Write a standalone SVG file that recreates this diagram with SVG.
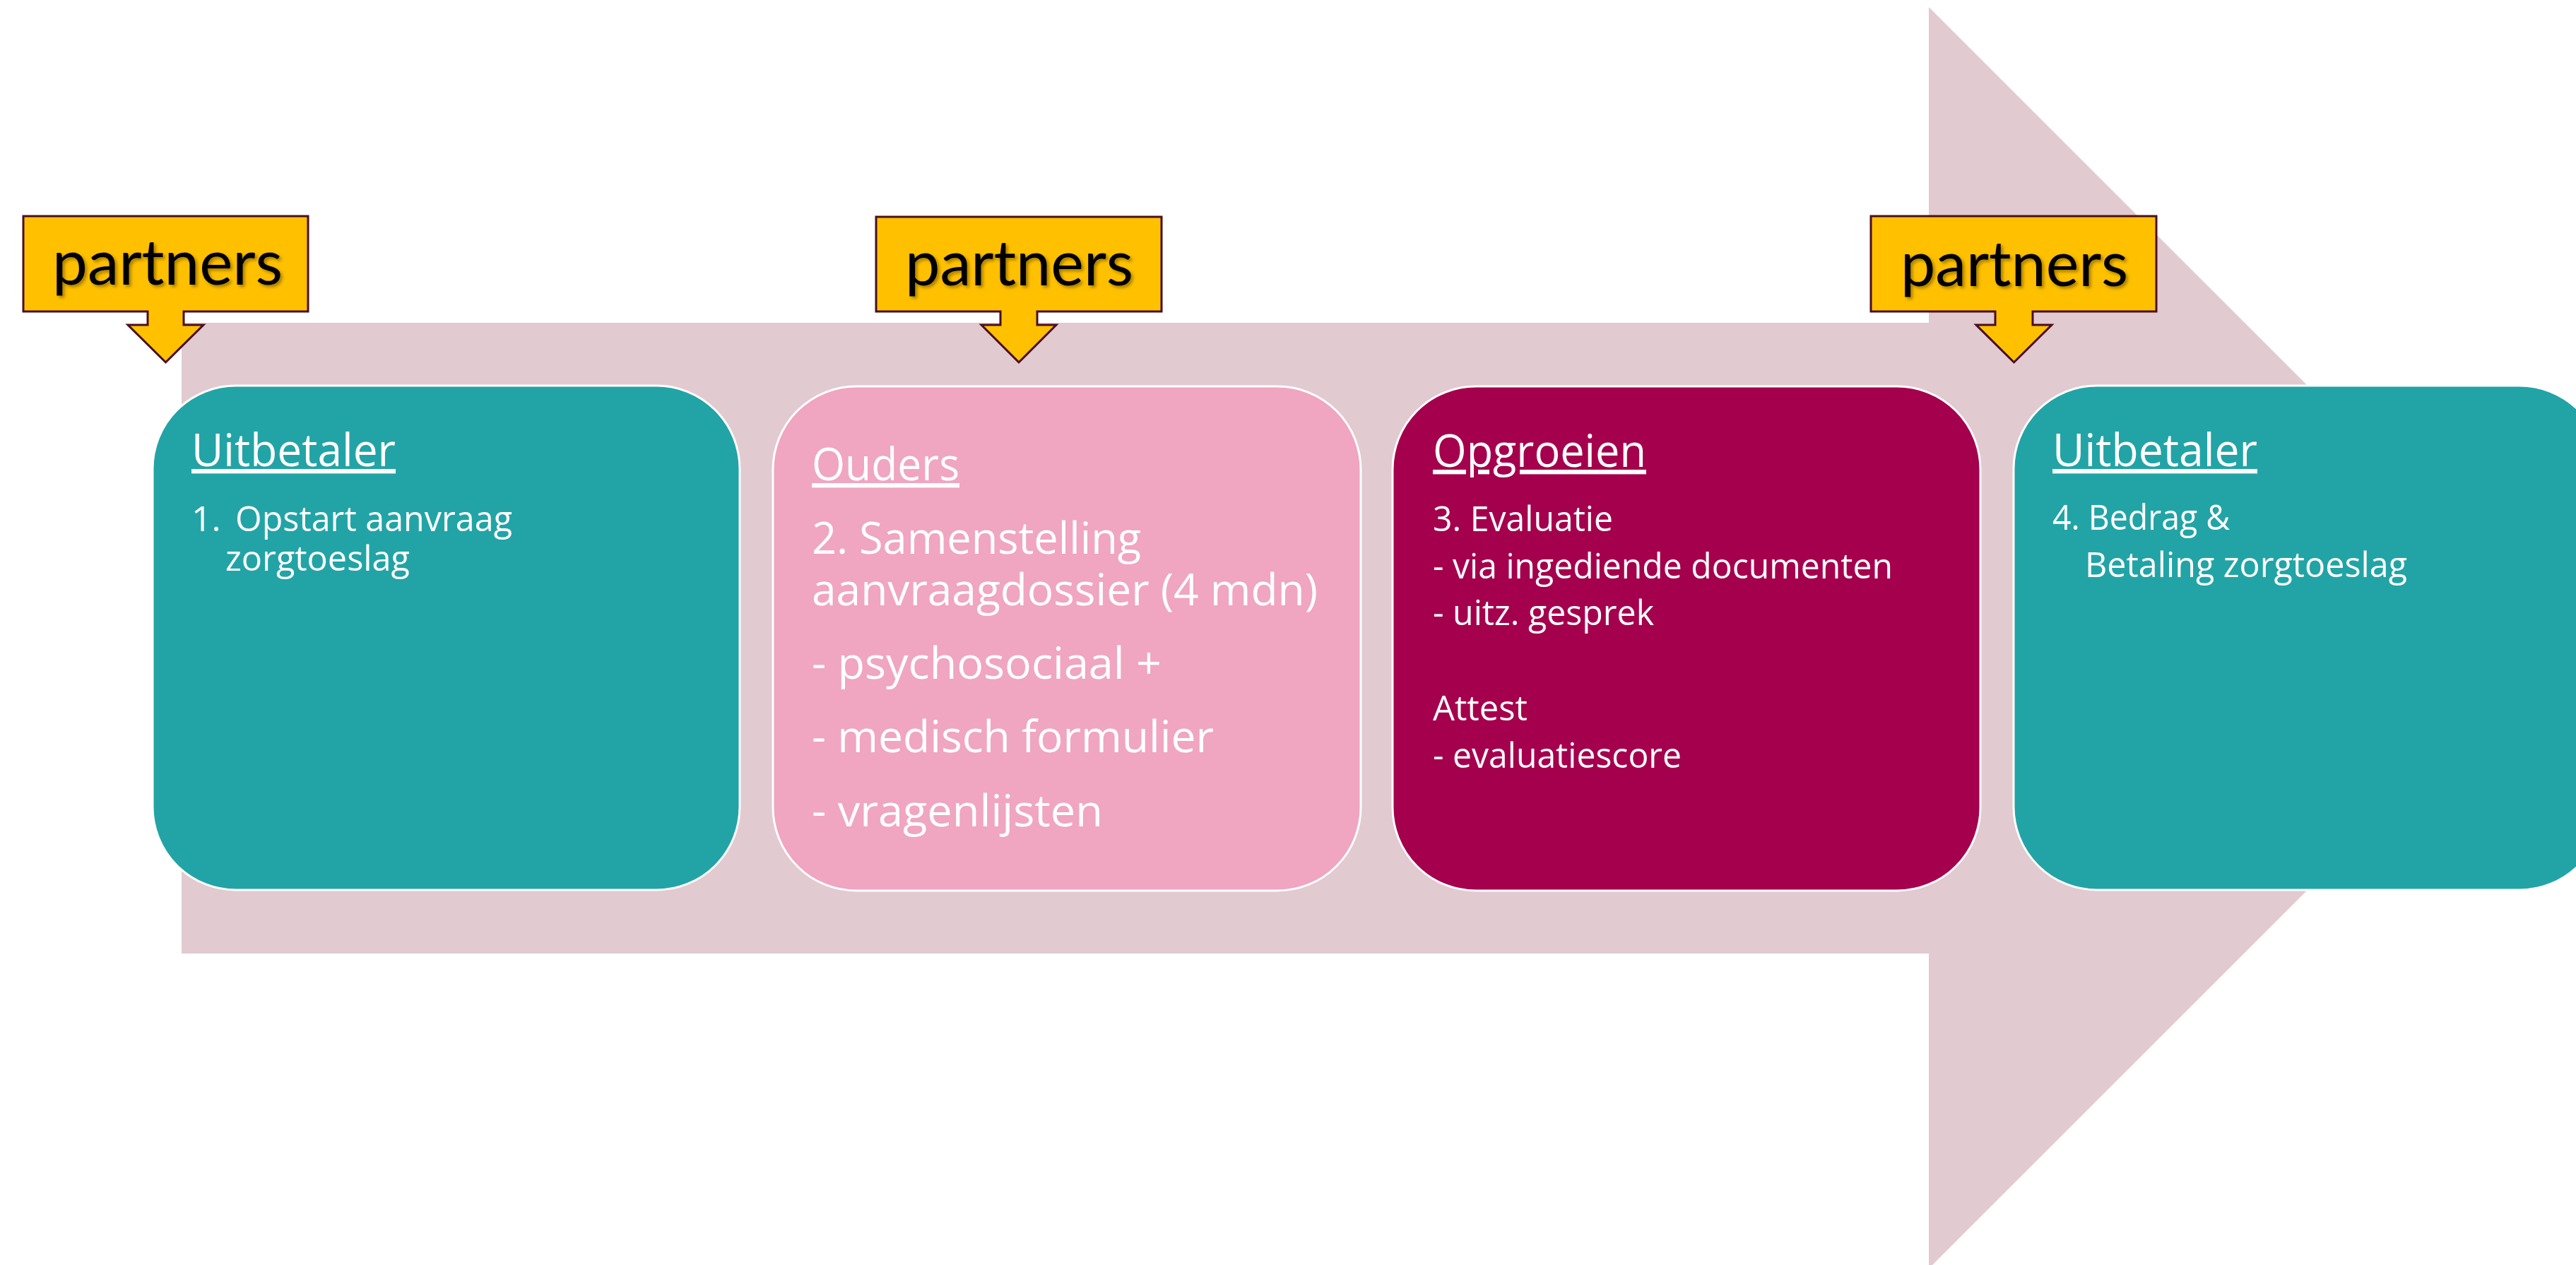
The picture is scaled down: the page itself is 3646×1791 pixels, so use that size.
<svg xmlns="http://www.w3.org/2000/svg" width="3646" height="1791" viewBox="0 0 3646 1791">
<style>
.callout{fill:#FFC000;stroke:#4A0E22;stroke-width:3;stroke-linejoin:miter}
.ptxt{font-family:Lato,"Open Sans",sans-serif;font-size:90px;fill:#000}
.card{stroke:#FFFFFF;stroke-width:3}
.t{font-family:"Open Sans","Noto Sans",sans-serif;fill:#FFFFFF}
.title{font-size:64px;text-decoration:underline}
.big{font-size:62px}
.small{font-size:50px}
</style>
<defs>
<filter id="sh" x="-10%" y="-20%" width="130%" height="150%">
<feDropShadow dx="3" dy="3" stdDeviation="2" flood-color="#000" flood-opacity="0.35"/>
</filter>
</defs>
<rect width="3646" height="1791" fill="#FFFFFF"/>
<g id="big-arrow">
<path d="M257,457 H2730 V10 L3623,903 L2730,1796 V1350 H257 Z" fill="#E1CAD0"/>
</g>
<g id="connectors">
<g id="partners1">
<path class="callout" d="M33,306 H436 V441 H260 V460 H288 L234.5,513 L181,460 H209 V441 H33 Z"/>
<text class="ptxt" x="74" y="403" textLength="326" lengthAdjust="spacingAndGlyphs" filter="url(#sh)">partners</text>
</g>
<g id="partners2">
<path class="callout" d="M1240,307 H1644 V441 H1468 V460 H1495 L1442,513 L1389,460 H1416 V441 H1240 Z"/>
<text class="ptxt" x="1281" y="404" textLength="323" lengthAdjust="spacingAndGlyphs" filter="url(#sh)">partners</text>
</g>
<g id="partners3">
<path class="callout" d="M2648,306 H3052 V441 H2877 V460 H2904 L2850.5,513 L2797,460 H2824 V441 H2648 Z"/>
<text class="ptxt" x="2690" y="405" textLength="322" lengthAdjust="spacingAndGlyphs" filter="url(#sh)">partners</text>
</g>
</g>
<g id="card1">
<rect class="card" x="216" y="546" width="831" height="714" rx="118" ry="118" fill="#22A4A6"/>
<text class="t title" x="271" y="660" textLength="289" lengthAdjust="spacingAndGlyphs">Uitbetaler</text>
<text class="t small"><tspan x="271" y="752">1.</tspan><tspan x="333" y="752" textLength="392" lengthAdjust="spacingAndGlyphs">Opstart aanvraag</tspan><tspan x="319" y="808" textLength="261" lengthAdjust="spacingAndGlyphs">zorgtoeslag</tspan></text>
</g>
<g id="card2">
<rect class="card" x="1094" y="547" width="832" height="714" rx="118" ry="118" fill="#F0A5C1"/>
<text class="t title" x="1149" y="680" textLength="209" lengthAdjust="spacingAndGlyphs">Ouders</text>
<text class="t big"><tspan x="1149" y="784" textLength="466" lengthAdjust="spacingAndGlyphs">2. Samenstelling</tspan><tspan x="1149" y="857" textLength="716" lengthAdjust="spacingAndGlyphs">aanvraagdossier (4 mdn)</tspan></text>
<text class="t big" x="1149" y="961" textLength="495" lengthAdjust="spacingAndGlyphs">- psychosociaal +</text>
<text class="t big" x="1149" y="1065" textLength="569" lengthAdjust="spacingAndGlyphs">- medisch formulier</text>
<text class="t big" x="1149" y="1170" textLength="412" lengthAdjust="spacingAndGlyphs">- vragenlijsten</text>
</g>
<g id="card3">
<rect class="card" x="1971" y="547" width="832" height="714" rx="118" ry="118" fill="#A5004D"/>
<text class="t title" x="2028" y="661" textLength="302" lengthAdjust="spacingAndGlyphs">Opgroeien</text>
<text class="t small"><tspan x="2028" y="752" textLength="255" lengthAdjust="spacingAndGlyphs">3. Evaluatie</tspan><tspan x="2028" y="819" textLength="651" lengthAdjust="spacingAndGlyphs">- via ingediende documenten</tspan><tspan x="2028" y="885" textLength="313" lengthAdjust="spacingAndGlyphs">- uitz. gesprek</tspan></text>
<text class="t small"><tspan x="2028" y="1020" textLength="134" lengthAdjust="spacingAndGlyphs">Attest</tspan><tspan x="2028" y="1087" textLength="352" lengthAdjust="spacingAndGlyphs">- evaluatiescore</tspan></text>
</g>
<g id="card4">
<rect class="card" x="2850" y="546" width="834" height="714" rx="118" ry="118" fill="#22A4A6"/>
<text class="t title" x="2905" y="660" textLength="290" lengthAdjust="spacingAndGlyphs">Uitbetaler</text>
<text class="t small"><tspan x="2905" y="750" textLength="251" lengthAdjust="spacingAndGlyphs">4. Bedrag &amp;</tspan><tspan x="2951" y="817" textLength="456" lengthAdjust="spacingAndGlyphs">Betaling zorgtoeslag</tspan></text>
</g>
</svg>
